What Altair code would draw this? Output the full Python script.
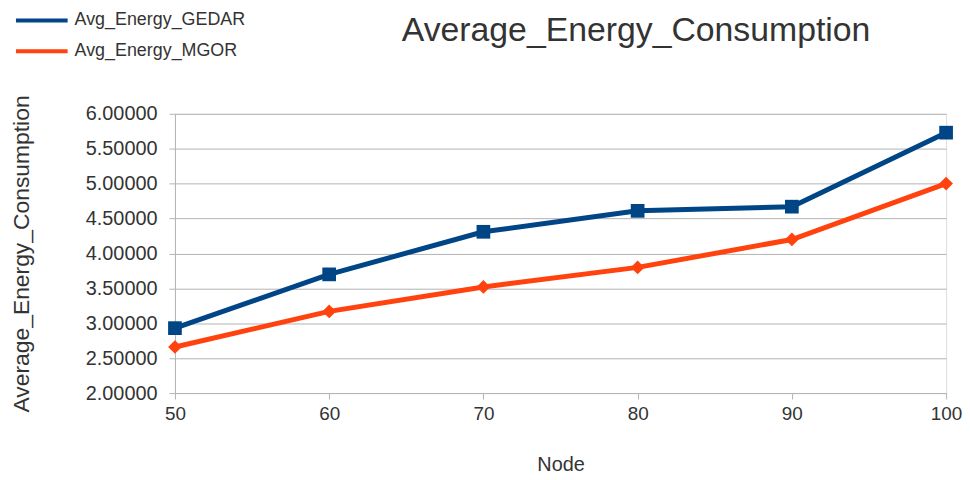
import altair as alt
import pandas as pd

nodes = [50, 60, 70, 80, 90, 100]
gedar = [2.93, 3.70, 4.31, 4.61, 4.67, 5.73]
mgor = [2.66, 3.17, 3.52, 3.80, 4.20, 5.00]
series_names = ["Avg_Energy_GEDAR", "Avg_Energy_MGOR"]
series_colors = ["#004586", "#ff420e"]
series_shapes = ["square", "diamond"]
y_ticks = [2.0, 2.5, 3.0, 3.5, 4.0, 4.5, 5.0, 5.5, 6.0]
x_ticks = [50, 60, 70, 80, 90, 100]

rows = []
for n, g, m in zip(nodes, gedar, mgor):
    rows.append({"Node": n, "Value": g, "Series": series_names[0]})
    rows.append({"Node": n, "Value": m, "Series": series_names[1]})
df = pd.DataFrame(rows)

FONT = "Liberation Sans"
TXT = "#333333"
GRID = "#b3b3b3"

x_enc = alt.X(
    "Node:Q",
    scale=alt.Scale(domain=[50, 100], nice=False, zero=False),
    axis=alt.Axis(
        values=x_ticks, title="Node", grid=False, format="d", labelFlush=False,
        labelFontSize=19, labelFont=FONT, labelColor=TXT,
        titleFontSize=20, titleFont=FONT, titleColor=TXT, titleFontWeight="normal",
        titleY=72, titleBaseline="middle",
        domainColor=GRID, tickColor=GRID, tickSize=6, labelPadding=6,
    ),
)
y_enc = alt.Y(
    "Value:Q",
    scale=alt.Scale(domain=[2, 6], nice=False, zero=False),
    axis=alt.Axis(
        values=y_ticks, format=".5f", title="Average_Energy_Consumption",
        labelFontSize=20, labelFont=FONT, labelColor=TXT,
        titleFontSize=23, titleFont=FONT, titleColor=TXT, titleFontWeight="normal",
        titleX=-154, titleY=140.5, titleBaseline="middle",
        domainColor=GRID, tickColor=GRID, tickSize=6, labelPadding=12,
        gridColor=GRID, gridWidth=1,
    ),
)
color_scale = alt.Scale(domain=series_names, range=series_colors)

lines = alt.Chart(df).mark_line(strokeWidth=5).encode(
    x=x_enc, y=y_enc,
    color=alt.Color("Series:N", scale=color_scale, title=None,
                    legend=alt.Legend(orient="none", legendX=-143, legendY=-103,
                                      symbolType="M-4,0H4", symbolSize=169,
                                      symbolStrokeWidth=4, labelOffset=24,
                                      labelFontSize=18, labelFont=FONT, labelLimit=400,
                                      labelColor=TXT, rowPadding=13, padding=0)),
)
points = alt.Chart(df).mark_point(filled=True, size=190, opacity=1).encode(
    x=x_enc, y=y_enc,
    color=alt.Color("Series:N", scale=color_scale, legend=None),
    shape=alt.Shape("Series:N", scale=alt.Scale(domain=series_names, range=series_shapes), legend=None),
)

chart = alt.layer(lines, points).resolve_legend(
    color="independent", shape="independent"
).properties(
    width=776, height=281,
    autosize=alt.AutoSizeParams(type="none"),
    padding={"left": 168, "top": 105, "right": 16, "bottom": 84},
    title=alt.Title("Average_Energy_Consumption", fontSize=34, font=FONT, color=TXT,
                    fontWeight="normal", anchor="middle", dx=76, offset=0, dy=37),
).configure_view(stroke=GRID, strokeWidth=1).configure(background="white")

chart.save("out.html", embed_options={"renderer": "svg", "actions": False})
